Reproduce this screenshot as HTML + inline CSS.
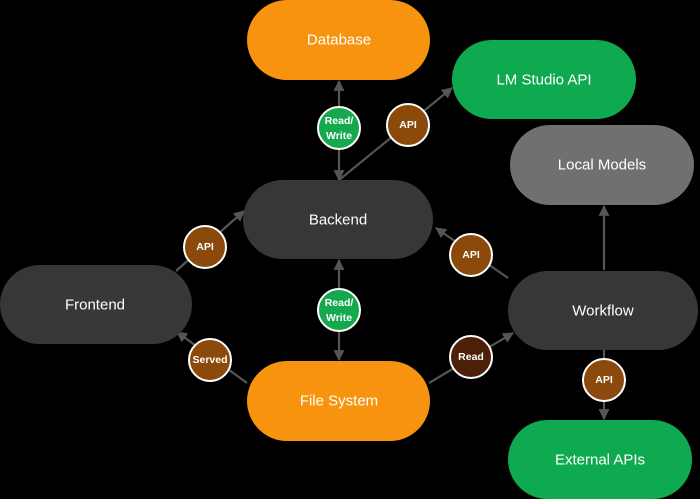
<!DOCTYPE html>
<html><head><style>
html,body{margin:0;padding:0;background:#000;width:700px;height:499px;overflow:hidden}
svg{display:block}
text{font-family:"Liberation Sans",sans-serif;fill:#fff;text-anchor:middle;dominant-baseline:central}
.n{font-size:15px}
.l{font-size:10.5px;font-weight:bold}
</style></head><body>
<svg width="700" height="499" viewBox="0 0 700 499">
<defs>
<marker id="a" viewBox="0 0 10 10" refX="9" refY="5" markerWidth="5" markerHeight="5" orient="auto-start-reverse">
<path d="M0,0 L10,5 L0,10 z" fill="#555"/></marker>
</defs>
<g stroke="#555" stroke-width="2.2" fill="none">
<line x1="339" y1="180" x2="339" y2="81" marker-start="url(#a)" marker-end="url(#a)"/>
<line x1="339" y1="180" x2="452" y2="88" marker-end="url(#a)"/>
<line x1="176" y1="271" x2="244" y2="211" marker-end="url(#a)"/>
<line x1="508" y1="278" x2="436" y2="228" marker-end="url(#a)"/>
<line x1="339" y1="260" x2="339" y2="360" marker-start="url(#a)" marker-end="url(#a)"/>
<line x1="247" y1="383" x2="177" y2="332" marker-end="url(#a)"/>
<line x1="429" y1="383" x2="513" y2="333" marker-end="url(#a)"/>
<line x1="604" y1="270" x2="604" y2="206" marker-end="url(#a)"/>
<line x1="604" y1="350" x2="604" y2="419" marker-end="url(#a)"/>
</g>
<rect x="247" y="0" width="183" height="80" rx="40" fill="#F7930F"/>
<text class="n" x="339" y="40">Database</text>
<rect x="452" y="40" width="184" height="79" rx="39.5" fill="#0FAA50"/>
<text class="n" x="544" y="80">LM Studio API</text>
<rect x="510" y="125" width="184" height="80" rx="40" fill="#707070"/>
<text class="n" x="602" y="165">Local Models</text>
<rect x="243" y="180" width="190" height="79" rx="39.5" fill="#373638"/>
<text class="n" x="338" y="220">Backend</text>
<rect x="0" y="265" width="192" height="79" rx="39.5" fill="#373638"/>
<text class="n" x="95" y="305">Frontend</text>
<rect x="508" y="271" width="190" height="79" rx="39.5" fill="#373638"/>
<text class="n" x="603" y="311">Workflow</text>
<rect x="247" y="361" width="183" height="80" rx="40" fill="#F7930F"/>
<text class="n" x="339" y="401">File System</text>
<rect x="508" y="420" width="184" height="79" rx="39.5" fill="#0FAA50"/>
<text class="n" x="600" y="460">External APIs</text>
<g stroke="#fff" stroke-width="2">
<circle cx="339" cy="128" r="21" fill="#16A84F"/>
<circle cx="408" cy="125" r="21" fill="#8B4A0B"/>
<circle cx="205" cy="247" r="21" fill="#8B4A0B"/>
<circle cx="471" cy="255" r="21" fill="#8B4A0B"/>
<circle cx="339" cy="310" r="21" fill="#16A84F"/>
<circle cx="210" cy="360" r="21" fill="#8B4A0B"/>
<circle cx="471" cy="357" r="21" fill="#4D200A"/>
<circle cx="604" cy="380" r="21" fill="#8B4A0B"/>
</g>
<text class="l" x="339" y="121">Read/</text><text class="l" x="339" y="136">Write</text>
<text class="l" x="408" y="125">API</text>
<text class="l" x="205" y="247">API</text>
<text class="l" x="471" y="255">API</text>
<text class="l" x="339" y="303">Read/</text><text class="l" x="339" y="318">Write</text>
<text class="l" x="210" y="360">Served</text>
<text class="l" x="471" y="357">Read</text>
<text class="l" x="604" y="380">API</text>
</svg>
</body></html>
